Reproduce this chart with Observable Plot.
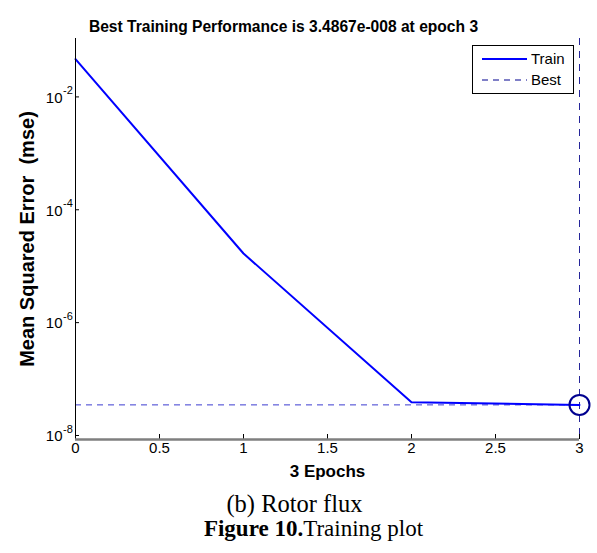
<!DOCTYPE html>
<html><head><meta charset="utf-8">
<script src="https://cdn.jsdelivr.net/npm/d3@7"></script>
<script src="https://cdn.jsdelivr.net/npm/@observablehq/plot@0.6"></script>
<style>
body{margin:0;background:#fff;}
#chart{width:597px;height:490px;}
.cap{font-family:"Liberation Serif","Times New Roman",serif;text-align:center;color:#000;width:597px;position:relative;}
#c1{font-size:24.5px;line-height:24px;left:-4px;margin-top:2px;}
#c2{font-size:23px;line-height:25px;left:15px;}
</style></head><body><div id="chart"></div>
<div class="cap" id="c1">(b) Rotor flux</div>
<div class="cap" id="c2"><b>Figure 10.</b>Training plot</div>
<script>
const epochs = [0, 1, 2, 3];
const trainMSE = [0.0467, 1.68e-5, 3.9e-8, 3.4867e-8];
const bestEpoch = 3;
const bestMSE = 3.4867e-8;
const xTicks = [0, 0.5, 1, 1.5, 2, 2.5, 3];
const yTickExps = [-2, -4, -6, -8];
const yDomain = [10 ** -8.071, 10 ** -0.965];
const titleText = "Best Training Performance is 3.4867e-008 at epoch 3";
const xLabel = "3 Epochs";
const yLabel = "Mean Squared Error\u00a0 (mse)";
const legendItems = ["Train", "Best"];

const data = epochs.map((e, i) => ({epoch: e, mse: trainMSE[i]}));
const font = "Liberation Sans, Arial, sans-serif";

const plot = Plot.plot({
  width: 597, height: 490,
  marginLeft: 75, marginRight: 18, marginTop: 38, marginBottom: 51,
  style: {fontFamily: font, color: "#000", background: "#fff", overflow: "visible"},
  x: {domain: [0, 3]},
  y: {type: "log", domain: yDomain},
  marks: [
    Plot.ruleY([bestMSE], {stroke: "#3c3cd0", strokeDasharray: "6,5", strokeWidth: 1}),
    Plot.ruleX([bestEpoch], {stroke: "#26269a", strokeDasharray: "7,6", strokeWidth: 1}),
    Plot.line(data, {x: "epoch", y: "mse", stroke: "#0000ff", strokeWidth: 2}),
    Plot.dot([{epoch: bestEpoch, mse: bestMSE}], {x: "epoch", y: "mse", r: 10, stroke: "#00008f", strokeWidth: 2, fill: "none"}),
    Plot.axisY({ticks: yTickExps.map(e => 10 ** e), tickSize: -4, tickFormat: () => "", label: null, stroke: "#000"}),
    Plot.axisX({ticks: xTicks, tickSize: -5, tickFormat: () => "", label: null, stroke: "#000"}),
    Plot.ruleX([0], {stroke: "#000", strokeWidth: 1}),
    Plot.ruleY([yDomain[0]], {stroke: "#7f7f7f", strokeWidth: 2.5}),
    Plot.text(xTicks, {x: d => d, frameAnchor: "bottom", dy: 13, text: d => String(d), fontSize: 15, fill: "#000"}),
    Plot.text(yTickExps, {y: d => 10 ** d, frameAnchor: "left", dx: -13, dy: 1, textAnchor: "end", text: () => "10", fontSize: 15, fill: "#000"}),
    Plot.text(yTickExps, {y: d => 10 ** d, frameAnchor: "left", dx: -12.5, dy: -6, textAnchor: "start", text: d => String(d), fontSize: 11, fill: "#000"}),
    Plot.text([xLabel], {frameAnchor: "bottom", dy: 37, text: d => d, fontWeight: "bold", fontSize: 17, fill: "#000"}),
    Plot.text([yLabel], {frameAnchor: "left", dx: -48, rotate: -90, textAnchor: "middle", text: d => d, fontWeight: "bold", fontSize: 20, fill: "#000"}),
    Plot.text([titleText], {frameAnchor: "top", dx: -44, dy: -18, text: d => d, fontWeight: "bold", fontSize: 15.6, fill: "#000"})
  ]
});
document.getElementById("chart").appendChild(plot);

// legend
const svg = d3.select(plot);
const lg = svg.append("g").attr("font-family", font).attr("font-size", 15).attr("text-anchor", "start");
lg.append("rect").attr("x", 472.5).attr("y", 45.5).attr("width", 101).attr("height", 48)
  .attr("fill", "#fff").attr("stroke", "#000").attr("stroke-width", 1);
const rowsY = [59, 80];
const styles = [{stroke: "#0000ff", w: 2, dash: null}, {stroke: "#00008f", w: 1, dash: "6,5"}];
legendItems.forEach((name, i) => {
  lg.append("line").attr("x1", 482).attr("x2", 527).attr("y1", rowsY[i]).attr("y2", rowsY[i])
    .attr("stroke", styles[i].stroke).attr("stroke-width", styles[i].w)
    .attr("stroke-dasharray", styles[i].dash);
  lg.append("text").attr("x", 531).attr("y", rowsY[i]).attr("dy", "0.35em").attr("fill", "#000").text(name);
});
</script>
</body></html>
